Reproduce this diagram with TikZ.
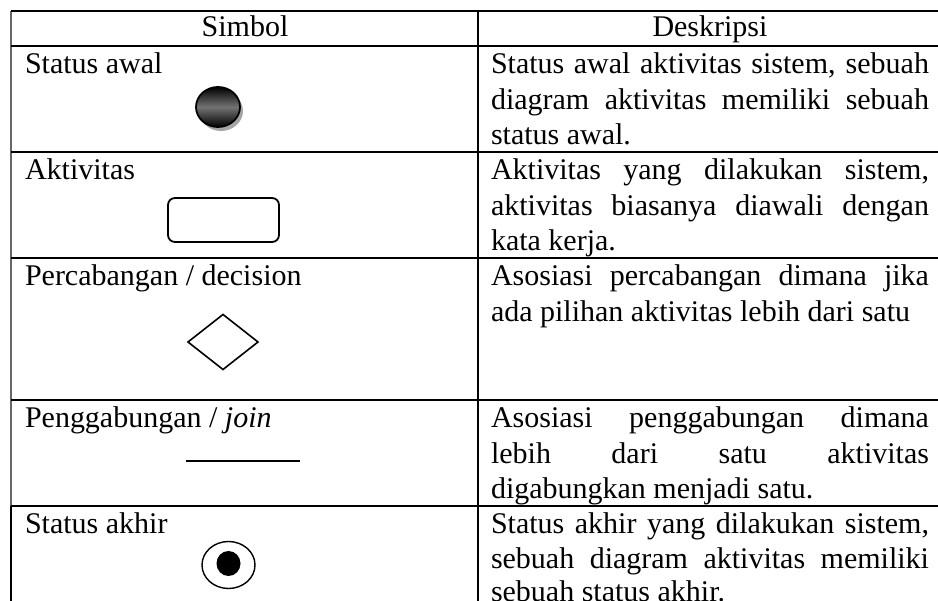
\documentclass[tikz,border=0pt]{standalone}
\usepackage{fontspec}
\setmainfont{Liberation Serif}
\usetikzlibrary{shapes.geometric,shadows}

% one justified line of the description column
\newcommand{\jline}[1]{\makebox[438pt][s]{#1}}

\begin{document}
\begin{tikzpicture}[x=1pt,y=-1pt,
  every node/.style={inner sep=0pt,outer sep=0pt},
  txt/.style={anchor=base west,font=\fontsize{30}{35.5}\selectfont},
  head/.style={anchor=base,font=\fontsize{30}{35.5}\selectfont},
  rule/.style={line width=1.6pt,black},
  symline/.style={line width=1.6pt,black}]
\useasboundingbox (0,0) rectangle (938,601);

% table frame
\draw[line width=1.4pt,black!60] (11,11) -- (11,506);
\draw[line width=1.4pt,black] (11,506) -- (11,601);
\draw[rule] (478,11) -- (478,601);
\foreach \y in {11,46,152,258,400,506}
  \draw[rule] (11,\y) -- (938,\y);

% header
\node[head] (hsym) at (245,37) {Simbol};
\node[head] (hdesc) at (710,37) {Deskripsi};

% symbol column labels
\node[txt] (l1) at (25,74) {Status awal};
\node[txt] (l2) at (25,180) {Aktivitas};
\node[txt] (l3) at (25,286) {Percabangan / decision};
\node[txt] (l4) at (25,428) {Penggabungan / \textit{join}};
\node[txt] (l5) at (25,534) {Status akhir};

% initial state
\node[ellipse,minimum width=44pt,minimum height=40pt,
      draw=black,line width=1.8pt,
      top color=black,bottom color=black,middle color=black!55,
      drop shadow={shadow xshift=3pt,shadow yshift=-4pt,fill=black!35,opacity=1}]
      (start) at (218,107) {};
\draw[white,line width=0.6pt] ([shift={(-10pt,3pt)}]start.north)
      .. controls ([shift={(-4pt,1.5pt)}]start.north) .. ([shift={(3pt,2pt)}]start.north);

% activity
\node[rectangle,rounded corners=7pt,draw=black,line width=1.8pt,
      minimum width=111pt,minimum height=44pt] (act) at (223.5,220) {};

% decision
\node[diamond,draw=black,line width=1.6pt,aspect=1.27,
      minimum width=70pt,minimum height=55pt] (dec) at (223,342) {};

% join bar
\coordinate (j1) at (186,461);
\coordinate (j2) at (300,461);
\draw[symline] (j1) -- (j2);

% final state
\node[ellipse,draw=black,line width=1.4pt,
      minimum width=53pt,minimum height=47pt] (fin) at (228.5,565) {};
\node[ellipse,fill=black,minimum width=24pt,minimum height=25pt] (finin) at (228.5,563.5) {};

% descriptions
\node[txt] (d11) at (491,74) {\jline{Status awal aktivitas sistem, sebuah}};
\node[txt] (d12) at (491,109.5) {\jline{diagram aktivitas memiliki sebuah}};
\node[txt] (d13) at (491,145) {status awal.};

\node[txt] (d21) at (491,180) {\jline{Aktivitas yang dilakukan sistem,}};
\node[txt] (d22) at (491,215.5) {\jline{aktivitas biasanya diawali dengan}};
\node[txt] (d23) at (491,251) {kata kerja.};

\node[txt] (d31) at (491,286) {\jline{Asosiasi percabangan dimana jika}};
\node[txt] (d32) at (491,321.5) {ada pilihan aktivitas lebih dari satu};

\node[txt] (d41) at (491,428) {\jline{Asosiasi penggabungan dimana}};
\node[txt] (d42) at (491,463.5) {\jline{lebih dari satu aktivitas}};
\node[txt] (d43) at (491,499) {digabungkan menjadi satu.};

\node[txt] (d51) at (491,534) {\jline{Status akhir yang dilakukan sistem,}};
\node[txt] (d52) at (491,568.5) {\jline{sebuah diagram aktivitas memiliki}};
\node[txt] (d53) at (491,601.5) {sebuah status akhir.};
\end{tikzpicture}
\end{document}
